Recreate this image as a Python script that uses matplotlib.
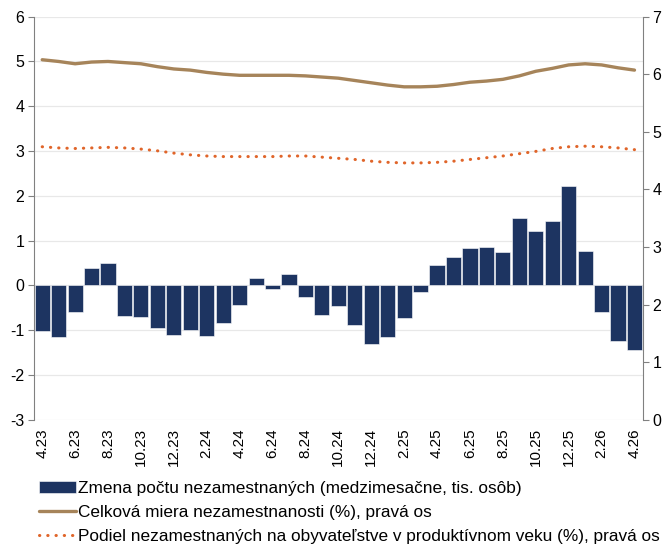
import numpy as np
import matplotlib
matplotlib.use("Agg")
import matplotlib.pyplot as plt

plt.rcParams['font.family'] = ['Liberation Sans', 'DejaVu Sans']
plt.rcParams['axes.unicode_minus'] = False

# months 4.23 .. 4.26
months = [f"{m}.{y}" for y, rng in ((23, range(4, 13)), (24, range(1, 13)), (25, range(1, 13)), (26, range(1, 5))) for m in rng]

# change in number of unemployed (m/m, thousands)
zmena = [-1.01, -1.14, -0.59, 0.38, 0.50, -0.69, -0.71, -0.95, -1.11, -0.99,
         -1.12, -0.83, -0.43, 0.16, -0.07, 0.25, -0.25, -0.66, -0.45, -0.88,
         -1.31, -1.14, -0.73, -0.15, 0.46, 0.63, 0.84, 0.86, 0.75, 1.50,
         1.22, 1.43, 2.23, 0.77, -0.60, -1.24, -1.43]

# total unemployment rate (%), right axis
miera = [6.25, 6.22, 6.18, 6.21, 6.22, 6.20, 6.18, 6.13, 6.09, 6.07,
         6.03, 6.00, 5.98, 5.98, 5.98, 5.98, 5.97, 5.95, 5.93, 5.89,
         5.85, 5.81, 5.78, 5.78, 5.79, 5.82, 5.86, 5.88, 5.91, 5.97,
         6.05, 6.10, 6.16, 6.18, 6.16, 6.11, 6.07]

# share of unemployed in working-age population (%), right axis
podiel = [4.74, 4.72, 4.71, 4.72, 4.73, 4.72, 4.70, 4.67, 4.63, 4.60,
          4.58, 4.57, 4.57, 4.57, 4.57, 4.58, 4.58, 4.56, 4.54, 4.52,
          4.49, 4.47, 4.46, 4.46, 4.47, 4.49, 4.52, 4.55, 4.58, 4.62,
          4.66, 4.71, 4.74, 4.75, 4.74, 4.72, 4.69]

x = np.arange(len(months))

fig = plt.figure(figsize=(6.65, 5.45), dpi=100)
ax = fig.add_axes([0.0511, 0.2294, 0.9154, 0.7403])
ax2 = ax.twinx()

bars = ax.bar(x, zmena, width=0.92, color="#1d3461", edgecolor="white", linewidth=0.4,
              label="Zmena počtu nezamestnaných (medzimesačne, tis. osôb)", zorder=2)
l1, = ax2.plot(x, miera, color="#a6845a", lw=2.4, solid_capstyle="round",
               label="Celková miera nezamestnanosti (%), pravá os")
l2, = ax2.plot(x, podiel, color="#e0652a", lw=2.2, linestyle=(0, (0.1, 2.6)), dash_capstyle="round",
               label="Podiel nezamestnaných na obyvateľstve v produktívnom veku (%), pravá os")

ax.set_xlim(-0.5, len(months) - 0.5)
ax.set_ylim(-3, 6)
ax.set_yticks(range(-3, 7))
ax2.set_ylim(0, 7)
ax2.set_yticks(range(0, 8))

ax.set_xticks(x[::2])
ax.set_xticklabels(months[::2], rotation=90)
ax.tick_params(axis="x", length=0, pad=6, labelsize=11)
ax.tick_params(axis="y", length=4, color="#808080", labelsize=11.5, pad=3)
ax2.tick_params(axis="y", length=4, color="#808080", labelsize=11.5, pad=3)

ax.grid(axis="y", color="#e8e8e8", lw=0.9, zorder=0)
ax.set_axisbelow(True)
for a in (ax, ax2):
    a.spines["top"].set_visible(False)
    a.spines["bottom"].set_visible(False)
    a.spines["left"].set_color("#808080")
    a.spines["right"].set_color("#808080")
ax.spines["right"].set_visible(False)
ax2.spines["left"].set_visible(False)

fig.legend(handles=[bars, l1, l2], loc="upper left", bbox_to_anchor=(0.058, 0.117),
           frameon=False, fontsize=12.4, handlelength=2.2, handletextpad=0.1,
           labelspacing=0.52, borderaxespad=0, borderpad=0)

fig.savefig("out.png", dpi=100)
